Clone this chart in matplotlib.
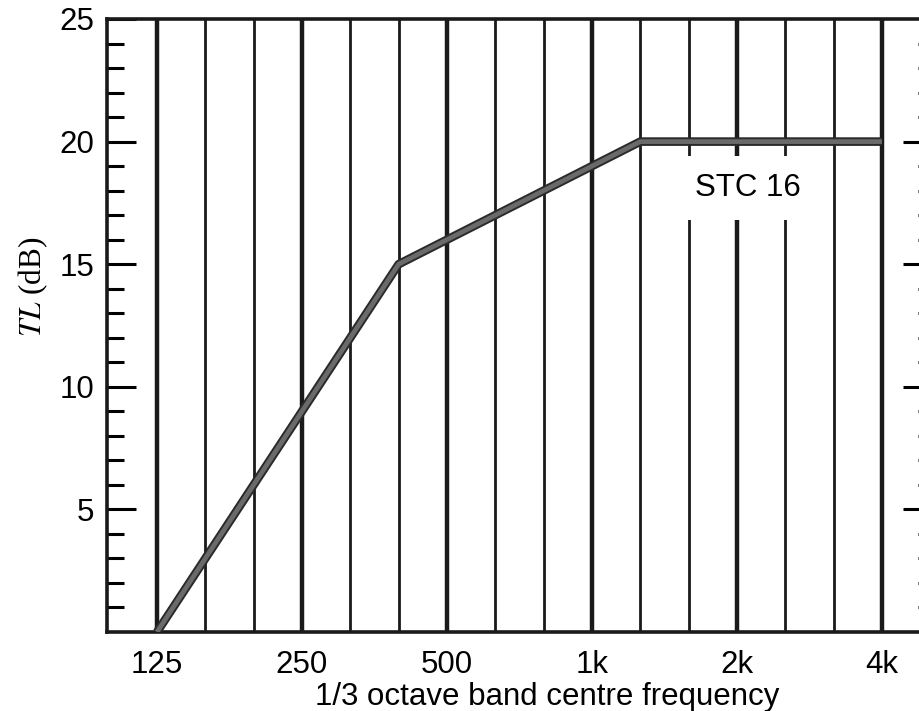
import matplotlib
matplotlib.use("Agg")
import matplotlib.pyplot as plt
import matplotlib.patheffects as pe
import numpy as np

# Data
bands = ['125', '160', '200', '250', '315', '400', '500', '630', '800',
         '1k', '1.25k', '1.6k', '2k', '2.5k', '3.15k', '4k']
stc16 = [0, 3, 6, 9, 12, 15, 16, 17, 18, 19, 20, 20, 20, 20, 20, 20]
octave_labels = ['125', '250', '500', '1k', '2k', '4k']
y_ticks = [5, 10, 15, 20, 25]
curve_label = 'STC 16'

plt.rcParams['font.family'] = ['Liberation Sans', 'DejaVu Sans']
plt.rcParams['mathtext.fontset'] = 'stix'

fig = plt.figure(figsize=(9.2, 7.11), dpi=100)
ax = fig.add_axes([107/920, 1-632/711, (922-107)/920, (632-19)/711])

x = np.arange(len(bands))
ax.set_xlim(-50/48.33, (922-157)/48.33)
ax.set_ylim(0, 25)

# vertical band lines
for i, b in enumerate(bands):
    lw = 3.2 if b in octave_labels else 2.0
    ax.axvline(i, color='#1a1a1a', lw=lw, zorder=1)

# STC contour
ax.plot(x, stc16, color='#6a6a6a', lw=3.4, zorder=3, solid_capstyle='butt',
        path_effects=[pe.Stroke(linewidth=6.2, foreground='#2a2a2a'), pe.Normal()])

ax.text(12.23, 18.1, curve_label, fontsize=22.5, ha='center', va='center', zorder=4,
        bbox=dict(boxstyle='square,pad=0.55', fc='white', ec='none'))

# x ticks
oct_pos = [bands.index(b) for b in octave_labels]
ax.set_xticks(oct_pos)
ax.set_xticklabels(octave_labels, fontsize=22.5)
ax.tick_params(axis='x', length=0, pad=13)

# y ticks
ax.set_yticks(y_ticks)
ax.set_yticklabels([str(v) for v in y_ticks], fontsize=22.5)
ax.set_yticks(np.arange(1, 25), minor=True)
ax.tick_params(axis='y', which='major', direction='in', length=21, width=2.2,
               pad=9, left=True, right=False)
ax.tick_params(axis='y', which='minor', direction='in', length=12, width=2.2,
               left=True, right=False)

# right side ticks
ax2 = ax.twinx()
ax2.set_ylim(0, 25)
ax2.set_yticks(y_ticks[:-1])
ax2.set_yticks(np.arange(1, 25), minor=True)
ax2.tick_params(axis='y', which='major', direction='in', length=14, width=2.2,
                labelright=False)
ax2.tick_params(axis='y', which='minor', direction='in', length=3, width=2.2)
for s in ax2.spines.values():
    s.set_visible(False)

for s in ['left', 'bottom', 'top', 'right']:
    ax.spines[s].set_linewidth(2.6)
    ax.spines[s].set_color('#1a1a1a')

fig.text(547/920, 1-705/711, '1/3 octave band centre frequency', fontsize=22.5,
         ha='center', va='baseline')
fig.text(33/920, 1-287/711, r'$TL$ (dB)', fontsize=22.5, family='Liberation Serif',
         rotation=90, ha='center', va='center')

fig.savefig('out.png', dpi=100)
